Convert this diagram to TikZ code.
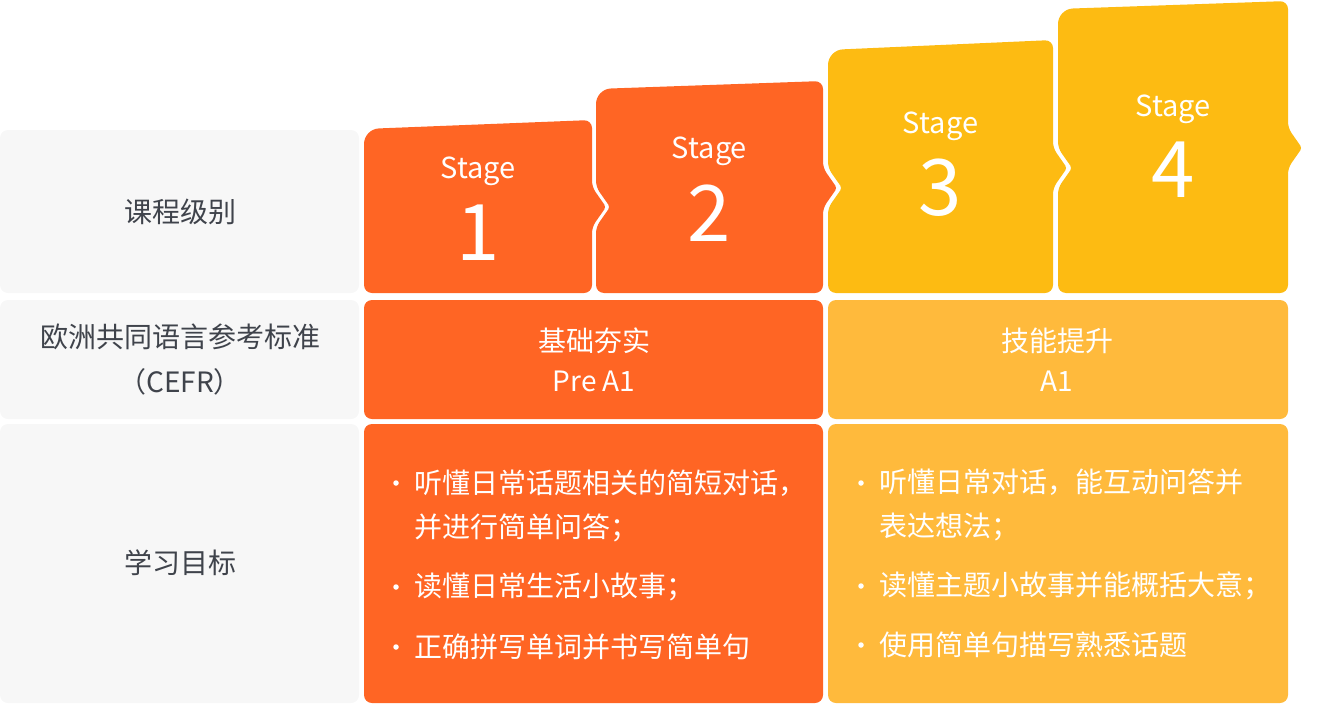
\documentclass[tikz,border=0pt]{standalone}
\usepackage{fontspec}
\setmainfont{Noto Sans CJK SC}
\usetikzlibrary{positioning}

\definecolor{stageorange}{HTML}{FF6524}
\definecolor{stageyellow}{HTML}{FDBB12}
\definecolor{rowyellow}{HTML}{FFBA3C}
\definecolor{rowgrey}{HTML}{F7F7F7}
\definecolor{labelgrey}{HTML}{3F434B}

\begin{document}
\begin{tikzpicture}[x=1pt,y=-1pt,
    cell/.style={rounded corners=8pt},
    rowname/.style={text=labelgrey,align=center,inner sep=0pt,font=\fontsize{28}{45}\selectfont},
    levelname/.style={text=white,align=center,inner sep=0pt,font=\fontsize{28}{40}\selectfont},
    goal/.style={text=white,align=left,anchor=west,inner sep=0pt,font=\fontsize{28}{44}\selectfont},
    dot/.style={circle,fill=white,inner sep=0pt,minimum size=5.5pt}]
\useasboundingbox (0,0) rectangle (1330,704);
% left column
\fill[rowgrey,cell] (0,130) rectangle (359,293);
\fill[rowgrey,cell] (0,300) rectangle (359,419);
\fill[rowgrey,cell] (0,424) rectangle (359,703);
% bands
\fill[stageorange,cell] (364,300) rectangle (823,419);
\fill[rowyellow,cell] (828,300) rectangle (1288,419);
\fill[stageorange,cell] (364,424) rectangle (823,703);
\fill[rowyellow,cell] (828,424) rectangle (1288,703);
% stages
\foreach \n/\l/\r/\ta/\tb/\ya/\da/\yb/\col/\ys/\yn in {
    1/364/592/129/120/207/0/207/stageorange/171/233,
    2/596/823/89/81/207/14/188/stageorange/151/213,
    3/828/1053/50/40/188/14/168/stageyellow/126/188,
    4/1058/1288/9/1/168/14/148/stageyellow/109/170}
{
  \fill[\col] (\l,\ta+30) [rounded corners=15pt] -- (\l,\ta) [rounded corners=8pt] -- (\r,\tb) [rounded corners=6pt]
    -- (\r,\yb-20) [rounded corners=3pt] -- (\r+14,\yb) [rounded corners=6pt] -- (\r,\yb+20) [rounded corners=8pt]
    -- (\r,293) -- (\l,293) [rounded corners=6pt]
    -- (\l,\ya+20) [rounded corners=3pt] -- (\l+\da,\ya) [rounded corners=6pt] -- (\l,\ya-20) -- cycle;
  \node[text=white,inner sep=0pt,font=\fontsize{29}{29}\selectfont] (stage\n) at ({(\l+\r)/2},\ys) {Stage};
  \node[text=white,inner sep=0pt,font=\fontsize{78}{78}\selectfont] (num\n) at ({(\l+\r)/2},\yn) {\n};
}
% row names
\node[rowname] (level) at (180,212) {课程级别};
\node[rowname] (cefr) at (180,360) {欧洲共同语言参考标准\\（CEFR）};
\node[rowname] (goals) at (180,563) {学习目标};
\node[levelname] (prea1) at (594,360) {基础夯实\\Pre A1};
\node[levelname] (a1) at (1057,360) {技能提升\\A1};
% goals
\node[goal] (goalA1) at (414,505.5) {听懂日常话题相关的简短对话，\\并进行简单问答；};
\node[goal] (goalA2) at (414,587) {读懂日常生活小故事；};
\node[goal] (goalA3) at (414,647) {正确拼写单词并书写简单句};
\node[goal] (goalB1) at (879,505) {听懂日常对话，能互动问答并\\表达想法；};
\node[goal] (goalB2) at (879,586) {读懂主题小故事并能概括大意；};
\node[goal] (goalB3) at (879,645) {使用简单句描写熟悉话题};
\foreach \x/\y [count=\i] in {396/483, 396/587, 396/647, 861/483, 861/586, 861/645}
  \node[dot] (dot\i) at (\x,\y) {};
\end{tikzpicture}
\end{document}
